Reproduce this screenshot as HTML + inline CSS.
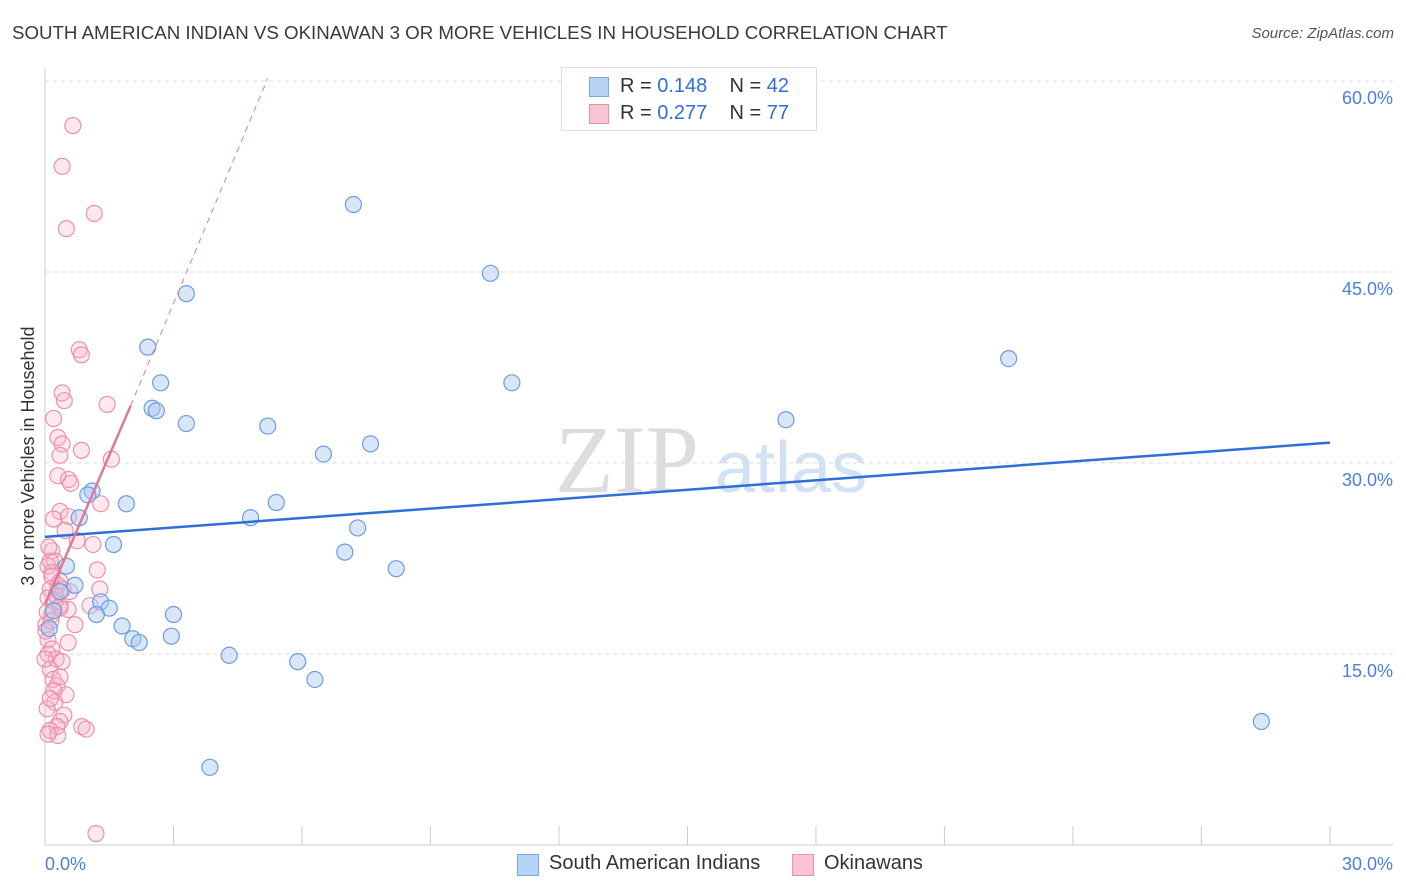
<!DOCTYPE html>
<html><head><meta charset="utf-8">
<style>
body{margin:0;background:#fff;font-family:"Liberation Sans",sans-serif;}
#c{position:relative;width:1406px;height:892px;overflow:hidden;}
.t{position:absolute;white-space:nowrap;}
</style></head><body>
<div id="c">
<div class="t" style="left:12px;top:22px;font-size:18.7px;color:#3a3a3a;">SOUTH AMERICAN INDIAN VS OKINAWAN 3 OR MORE VEHICLES IN HOUSEHOLD CORRELATION CHART</div>
<div class="t" style="right:12px;top:25px;font-size:15px;color:#555;font-style:italic;">Source: ZipAtlas.com</div>
<svg id="s" width="1406" height="892" style="position:absolute;left:0;top:0">
<text x="555" y="492" font-size="96" font-family="Liberation Serif" fill="#ddd">ZIP</text>
<text x="715" y="492" font-size="72" fill="#d0e2f4">atlas</text>
<text transform="translate(34,456) rotate(-90)" text-anchor="middle" font-size="18" fill="#333">3 or more Vehicles in Household</text>
<g id="g"></g>
</svg>
<div style="position:absolute;left:561px;top:67px;width:254px;height:62px;border:1px solid #ddd;background:#fff;font-size:20px;">
<div style="position:absolute;left:27px;top:9px;width:18px;height:18px;background:#b7d3f6;border:1px solid #7aa7e0"></div>
<div class="t" style="left:58px;top:7px;color:#333">R = <span style="color:#2d6fd6">0.148</span>&nbsp;&nbsp;&nbsp; N = <span style="color:#2d6fd6">42</span></div>
<div style="position:absolute;left:27px;top:36px;width:18px;height:18px;background:#f8c4d4;border:1px solid #e890ac"></div>
<div class="t" style="left:58px;top:34px;color:#333">R = <span style="color:#2d6fd6">0.277</span>&nbsp;&nbsp;&nbsp; N = <span style="color:#2d6fd6">77</span></div>
</div>
<div style="position:absolute;left:517px;top:852px;font-size:20px;color:#333">
<div style="position:absolute;left:0;top:2px;width:20px;height:20px;background:#b7d3f6;border:1px solid #7aa7e0"></div>
<div class="t" style="left:32px;top:0">South American Indians</div>
<div style="position:absolute;left:275px;top:2px;width:20px;height:20px;background:#f8c4d4;border:1px solid #e890ac"></div>
<div class="t" style="left:307px;top:0">Okinawans</div>
</div>
</div>
<script>
const yTicks=[15,30,45,60];
const yTickLabels=["15.0%","30.0%","45.0%","60.0%"];
const blueX=[7.2,10.4,3.3,2.4,2.7,10.9,22.5,2.5,2.6,3.3,5.2,17.3,6.5,7.6,1.1,1.0,1.9,5.4,0.8,4.8,7.3,1.6,7.0,0.5,8.2,0.7,0.35,1.3,1.5,1.2,3.0,0.2,1.8,0.1,2.05,2.2,2.95,4.3,5.9,6.3,28.4,3.85];
const blueY=[50.3,44.9,43.3,39.1,36.3,36.3,38.2,34.3,34.1,33.1,32.9,33.4,30.7,31.5,27.8,27.5,26.8,26.9,25.7,25.7,24.9,23.6,23.0,21.9,21.7,20.4,19.9,19.1,18.6,18.1,18.1,18.4,17.2,17.0,16.2,15.9,16.4,14.9,14.4,13.0,9.7,6.1];
const pinkX=[0.65,0.4,0.5,1.15,0.8,0.85,0.4,0.45,1.45,0.2,0.3,0.4,0.35,0.85,1.55,0.3,0.55,0.6,1.3,0.35,0.2,0.55,0.47,0.75,1.12,0.16,0.23,0.07,0.16,1.22,0.35,0.12,1.28,0.07,0.23,0.35,0.54,1.05,0.16,0.02,0.7,0.07,0.54,0.16,0.07,0.26,0.4,0.12,0.19,0.28,0.35,0.49,0.23,0.05,0.44,0.35,0.28,0.86,0.96,0.12,0.3,0.07,1.19,0.21,0.35,0.3,0.12,0.09,0.26,0.58,0.05,0.02,0.14,0.42,0,0.12,0.16];
const pinkY=[56.5,53.3,48.4,49.6,38.9,38.5,35.5,34.9,34.6,33.5,32.0,31.5,30.6,31.0,30.3,29.0,28.7,28.4,26.8,26.2,25.6,25.8,24.7,23.9,23.6,23.1,22.3,21.9,21.4,21.6,20.7,20.1,20.1,19.4,19.1,18.6,18.5,18.8,18.1,17.3,17.3,16.1,15.9,15.4,15.0,14.6,14.4,13.8,13.0,12.5,13.2,11.8,11.2,10.7,10.2,9.7,9.3,9.3,9.1,9.0,8.6,8.7,0.9,12.1,18.8,20.4,22.3,23.4,19.6,19.9,18.3,16.8,17.6,20.1,14.6,11.5,21.1];
const x=v=>45+v*42.83, y=v=>845-v*12.733;
const g=document.getElementById('g');
const NS='http://www.w3.org/2000/svg';
function mk(t,a){const e=document.createElementNS(NS,t);for(const k in a)e.setAttribute(k,a[k]);g.appendChild(e);return e;}
yTicks.forEach((t,i)=>{
 const l=mk('line',{x1:45,x2:1393,y1:y(t),y2:y(t),stroke:'#ddd','stroke-dasharray':'4,4'});
 
 
 const tx=mk('text',{x:1393,y:y(t)+23,'text-anchor':'end','font-size':18,fill:'#4a80d8'});
 tx.textContent=yTickLabels[i];
 
 
});
const ax=mk('line',{x1:45,x2:1393,y1:845,y2:845,stroke:'#ccc'});


const ay=mk('line',{x1:45,x2:45,y1:68,y2:845,stroke:'#ccc'});


for(let i=0;i<=10;i++){const tk=mk('line',{x1:x(i*3),x2:x(i*3),y1:826,y2:845,stroke:'#ccc'});
 
 }
[[0,"0.0%",'start',45],[30,"30.0%",'end',1393]].forEach(a=>{const t=mk('text',{x:a[3],y:870,'text-anchor':a[2],'font-size':18,fill:'#4a80d8'});t.textContent=a[1];
 
 });
pinkX.forEach((v,i)=>{const c=mk('circle',{cx:x(v),cy:y(pinkY[i]),r:8,fill:'rgba(248,180,200,0.3)',stroke:'#ec8aa8','stroke-width':1.1});
 
 });
blueX.forEach((v,i)=>{const c=mk('circle',{cx:x(v),cy:y(blueY[i]),r:8,fill:'rgba(170,200,240,0.45)',stroke:'#6b9de0','stroke-width':1.2});
 
 });
const bt=mk('line',{x1:x(0),y1:y(24.2),x2:x(30),y2:y(31.6),stroke:'#2d6fd6','stroke-width':2.5});


const pd=mk('line',{x1:x(2),y1:y(34.5),x2:x(5.2),y2:y(60.2),stroke:'#e07898','stroke-width':1,'stroke-dasharray':'6,5'});


const pt=mk('line',{x1:x(0),y1:y(18.9),x2:x(2),y2:y(34.5),stroke:'#e07898','stroke-width':2.5});


</script>
</body></html>
